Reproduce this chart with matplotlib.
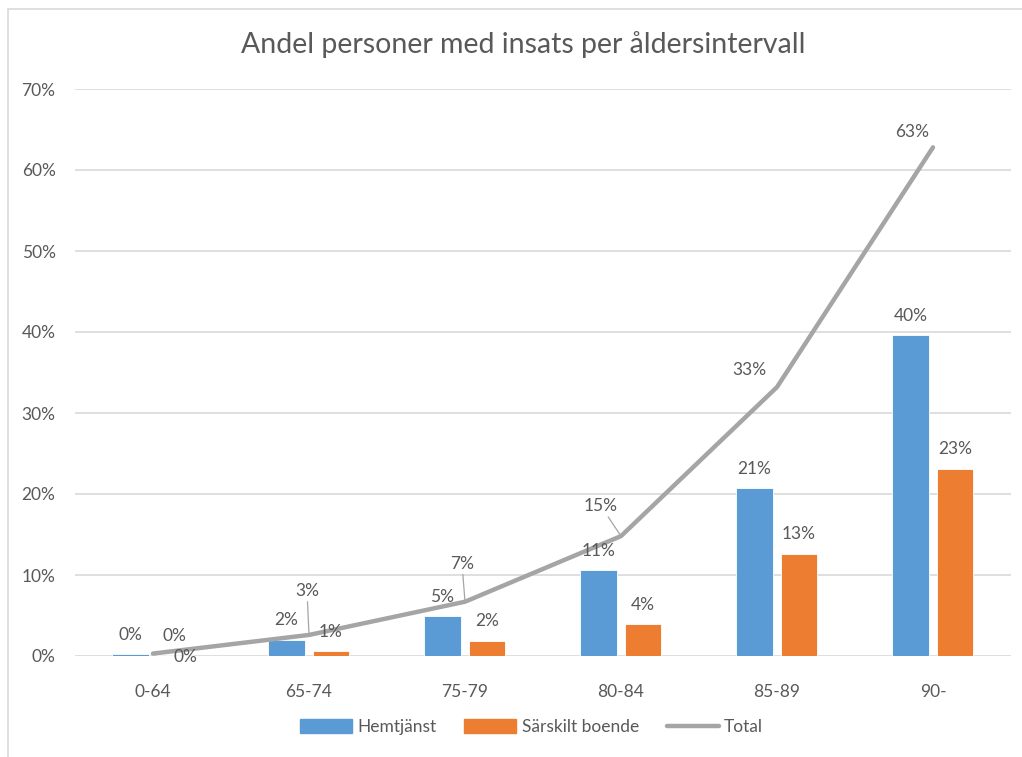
import matplotlib.pyplot as plt
import numpy as np
from matplotlib.patches import Rectangle

plt.rcParams['font.family'] = ['Lato', 'DejaVu Sans']

categories = ["0-64", "65-74", "75-79", "80-84", "85-89", "90-"]
hemtjanst = [0.2, 2.0, 4.9, 10.6, 20.7, 39.6]
sarskilt = [0.1, 0.6, 1.9, 3.9, 12.6, 23.1]
total = [0.3, 2.6, 6.7, 14.8, 33.2, 62.8]

blue = '#5B9BD5'
orange = '#ED7D31'
gray = '#A5A5A5'
txt = '#595959'

fig = plt.figure(figsize=(10.22, 7.57), dpi=100)
ax = fig.add_axes([75/1022, 1-656/757, 936/1022, (656-89)/757])

# chart border (only top/left visible in the original crop)
fig.patches.append(Rectangle((8/1022, -0.1), 1.2, 1.1 - 9/757, transform=fig.transFigure,
                             fill=False, edgecolor='#D9D9D9', linewidth=1.2))

x = np.arange(len(categories))
w = 0.235
b1 = ax.bar(x - 0.145, hemtjanst, w, color=blue, edgecolor='white', linewidth=0.6, zorder=2)
b2 = ax.bar(x + 0.14, sarskilt, w, color=orange, edgecolor='white', linewidth=0.6, zorder=2)
ax.plot(x, total, color=gray, linewidth=3.2, solid_capstyle='round', zorder=3)

# bar labels
for bars, vals in ((b1, hemtjanst), (b2, sarskilt)):
    for rect, v in zip(bars, vals):
        ax.annotate(f"{v:.0f}%", (rect.get_x() + rect.get_width()/2, v),
                    xytext=(0, 14), textcoords='offset points',
                    ha='center', va='center', fontsize=12.5, color=txt, zorder=4)

# total labels with excel-like placement (offsets in px)
offs = [(32, -3), (-2, 44), (-3, 38), (-20, 30), (-28, 17), (-21, 15)]
leader = [False, True, True, True, False, False]
for i, (v, (dx, dy)) in enumerate(zip(total, offs)):
    ax.annotate(f"{v:.0f}%", (x[i], v), xytext=(dx*0.72, dy*0.72),
                textcoords='offset points', ha='center', va='center',
                fontsize=12.5, color=txt, zorder=4,
                arrowprops=dict(arrowstyle='-', color=gray, lw=0.9,
                                shrinkA=0, shrinkB=1) if leader[i] else None)

ax.set_xlim(-0.5, 5.5)
ax.set_ylim(0, 70)
ax.set_yticks(range(0, 71, 10))
ax.set_yticklabels([f"{t}%" for t in range(0, 71, 10)])
ax.set_xticks(x)
ax.set_xticklabels(categories)
ax.tick_params(axis='both', length=0, labelsize=12.5, labelcolor=txt)
ax.tick_params(axis='y', pad=14)
ax.tick_params(axis='x', pad=20)
ax.grid(axis='y', color='#D9D9D9', linewidth=1.2, zorder=0)
ax.set_axisbelow(True)
for s in ax.spines.values():
    s.set_visible(False)

fig.text(0.512, 1-45/757, "Andel personer med insats per åldersintervall",
         ha='center', va='center', fontsize=20.5, color=txt)

handles = [Rectangle((0, 0), 1, 1, color=blue), Rectangle((0, 0), 1, 1, color=orange),
           plt.Line2D([0], [0], color=gray, lw=3.2, solid_capstyle='round')]
fig.legend(handles, ["Hemtjänst", "Särskilt boende", "Total"], loc='center',
           bbox_to_anchor=(0.52, 1-727/757), ncol=3, frameon=False, fontsize=12.5,
           labelcolor=txt, handlelength=3.0, handleheight=0.8, columnspacing=1.6,
           handletextpad=0.3)

fig.savefig('out.png', dpi=100)
